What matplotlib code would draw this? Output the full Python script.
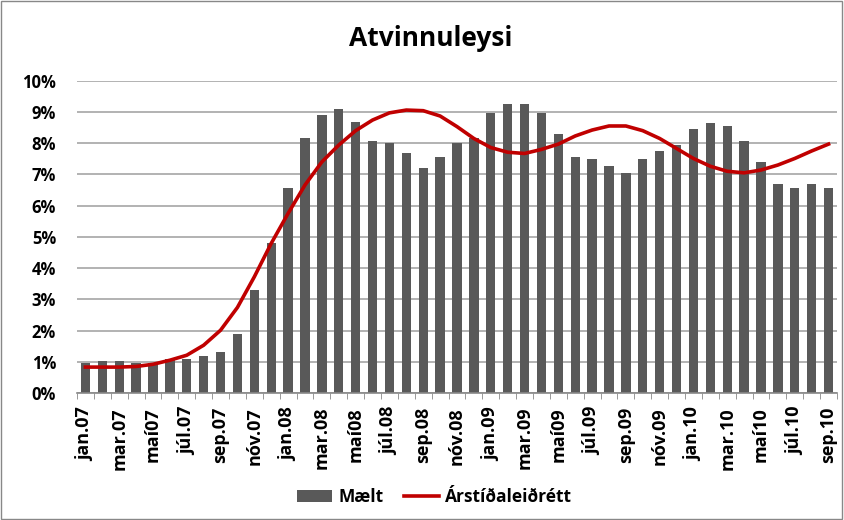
import numpy as np
import matplotlib.pyplot as plt
from matplotlib.patches import Rectangle

plt.rcParams["font.family"] = ["Open Sans", "DejaVu Sans"]
plt.rcParams["font.weight"] = "bold"

# monthly, jan.07 - sep.10
tick_labels = ["jan.07", "mar.07", "maí07", "júl.07", "sep.07", "nóv.07",
               "jan.08", "mar.08", "maí08", "júl.08", "sep.08", "nóv.08",
               "jan.09", "mar.09", "maí09", "júl.09", "sep.09", "nóv.09",
               "jan.10", "mar.10", "maí10", "júl.10", "sep.10"]

maelt = [0.96, 1.01, 1.01, 0.96, 0.95, 1.09, 1.09, 1.18, 1.30, 1.88, 3.29, 4.79,
         6.57, 8.18, 8.90, 9.10, 8.69, 8.07, 7.99, 7.69, 7.19, 7.56, 7.99, 8.17,
         8.97, 9.27, 9.27, 8.97, 8.28, 7.56, 7.48, 7.28, 7.06, 7.48, 7.74, 7.94,
         8.44, 8.64, 8.56, 8.07, 7.40, 6.69, 6.57, 6.69, 6.57]

arstidaleidrett = [0.83, 0.83, 0.83, 0.85, 0.92, 1.05, 1.21, 1.53, 2.01, 2.74, 3.72, 4.79,
                   5.75, 6.66, 7.40, 7.94, 8.40, 8.74, 8.97, 9.06, 9.04, 8.87, 8.53, 8.15,
                   7.86, 7.71, 7.67, 7.80, 7.97, 8.23, 8.42, 8.55, 8.55, 8.40, 8.15, 7.83,
                   7.51, 7.26, 7.10, 7.05, 7.14, 7.30, 7.51, 7.75, 7.97]

x = np.arange(len(maelt))

fig = plt.figure(figsize=(8.44, 5.2), dpi=100)
fig.patches.append(Rectangle((0.001, 0.001), 0.997, 0.997, transform=fig.transFigure,
                             fill=False, edgecolor="#888888", linewidth=1))
ax = fig.add_axes([0.0912, 0.2442, 0.9005, 0.6006])

bars = ax.bar(x, np.array(maelt) / 100, width=0.55, color="#595959", label="Mælt", zorder=2)
line, = ax.plot(x, np.array(arstidaleidrett) / 100, color="#c00000", linewidth=2.6,
                label="Árstíðaleiðrétt", zorder=3)

ax.set_xlim(-0.5, len(maelt) - 0.5)
ax.set_ylim(0, 0.10)
ax.set_yticks(np.arange(0, 0.101, 0.01))
ax.set_yticklabels([f"{i}%" for i in range(11)], fontsize=12, fontweight="bold")
ax.set_xticks(x[::2])
ax.set_xticklabels(tick_labels, rotation=90, fontsize=13, fontweight="bold")
ax.set_xticks(np.arange(-0.5, len(maelt), 1), minor=True)
ax.tick_params(axis="x", which="major", length=0, pad=10)
ax.tick_params(axis="x", which="minor", length=4, color="#888888")
ax.tick_params(axis="y", length=0, pad=15)

ax.grid(axis="y", color="#a6a6a6", linewidth=1.2, zorder=0)
for s in ["top", "right", "left"]:
    ax.spines[s].set_visible(False)
ax.spines["bottom"].set_color("#888888")
ax.spines["bottom"].set_linewidth(1.2)

fig.text(0.51, 0.925, "Atvinnuleysi", fontsize=19, fontweight="bold", ha="center", va="center")

fig.legend(handles=[bars, line], loc="center", bbox_to_anchor=(0.515, 0.044), ncol=2,
           frameon=False, prop={"size": 12.5, "weight": "bold"}, handlelength=2.0,
           columnspacing=1.2, handletextpad=0.35)

fig.savefig("out.png", dpi=100)
